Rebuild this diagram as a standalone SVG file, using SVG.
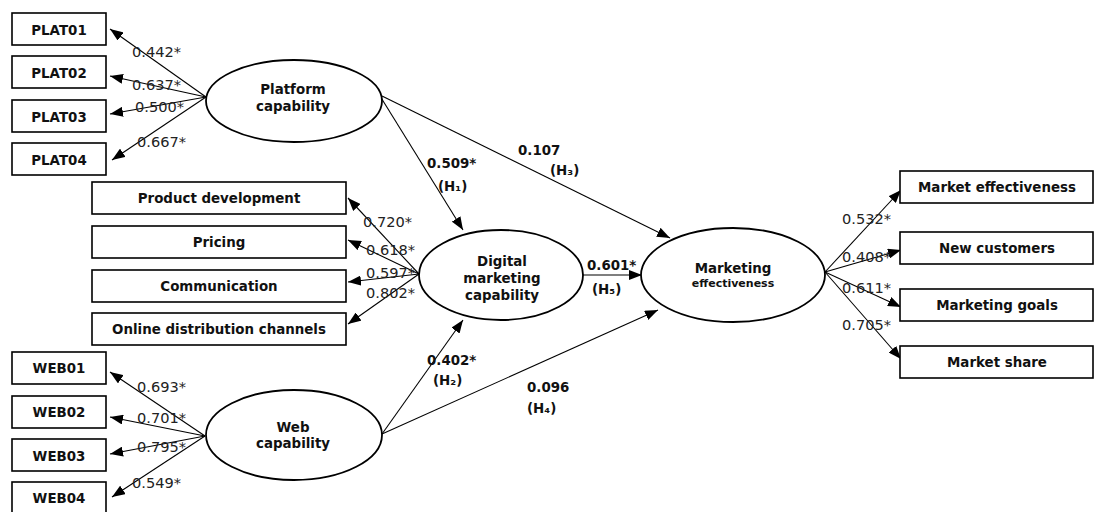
<svg xmlns="http://www.w3.org/2000/svg" width="1095" height="512" viewBox="0 0 1095 512">
<defs>
<marker id="ah" markerUnits="userSpaceOnUse" markerWidth="13" markerHeight="10" refX="13" refY="5" orient="auto">
<path d="M0,0 L13,5 L0,10 z" fill="#000"/>
</marker>
<style>
.box{fill:#fff;stroke:#000;stroke-width:1.6}
.ell{fill:#fff;stroke:#000;stroke-width:1.8}
.bl{font-family:"DejaVu Sans",Verdana,sans-serif;font-weight:bold;font-size:13.4px;fill:#111;text-anchor:middle}
.el{font-family:"DejaVu Sans",Verdana,sans-serif;font-weight:bold;font-size:13.4px;fill:#111;text-anchor:middle}
.num{font-family:"DejaVu Sans",Verdana,sans-serif;font-size:14.6px;fill:#222}
.pn{font-family:"DejaVu Sans",Verdana,sans-serif;font-weight:bold;font-size:13.4px;fill:#111}
.ln{stroke:#000;stroke-width:1.1;fill:none;marker-end:url(#ah)}
</style>
</defs>
<rect width="1095" height="512" fill="#fff"/>

<g id="connectors">
<line class="ln" x1="206" y1="97" x2="110" y2="29"/>
<line class="ln" x1="206" y1="97" x2="110" y2="76"/>
<line class="ln" x1="206" y1="97" x2="110" y2="114"/>
<line class="ln" x1="206" y1="97" x2="112" y2="160"/>
<line class="ln" x1="419" y1="274" x2="348" y2="198"/>
<line class="ln" x1="419" y1="274" x2="348" y2="240"/>
<line class="ln" x1="419" y1="274" x2="348" y2="282"/>
<line class="ln" x1="419" y1="274" x2="348" y2="324"/>
<line class="ln" x1="825" y1="272" x2="901" y2="190"/>
<line class="ln" x1="825" y1="272" x2="901" y2="250"/>
<line class="ln" x1="825" y1="272" x2="901" y2="307"/>
<line class="ln" x1="825" y1="272" x2="901" y2="359"/>
<line class="ln" x1="205" y1="436" x2="110" y2="372"/>
<line class="ln" x1="205" y1="436" x2="110" y2="417"/>
<line class="ln" x1="205" y1="436" x2="110" y2="454"/>
<line class="ln" x1="205" y1="436" x2="112" y2="497"/>
<line class="ln" x1="380" y1="96" x2="463" y2="230"/>
<line class="ln" x1="382" y1="96" x2="670" y2="238"/>
<line class="ln" x1="583" y1="275" x2="642" y2="275"/>
<line class="ln" x1="382" y1="434" x2="463" y2="320"/>
<line class="ln" x1="382" y1="434" x2="658" y2="310"/>
</g>

<g id="labels">
<text class="num" x="132" y="57">0.442*</text>
<text class="num" x="132" y="90">0.637*</text>
<text class="num" x="135" y="112">0.500*</text>
<text class="num" x="137" y="147">0.667*</text>
<text class="num" x="363" y="227">0.720*</text>
<text class="num" x="366" y="255">0.618*</text>
<text class="num" x="366" y="278">0.597*</text>
<text class="num" x="366" y="298">0.802*</text>
<text class="num" x="842" y="224">0.532*</text>
<text class="num" x="842" y="262">0.408*</text>
<text class="num" x="842" y="293">0.611*</text>
<text class="num" x="842" y="330">0.705*</text>
<text class="num" x="137" y="392">0.693*</text>
<text class="num" x="137" y="423">0.701*</text>
<text class="num" x="137" y="452">0.795*</text>
<text class="num" x="132" y="488">0.549*</text>
<text class="pn" x="427" y="168">0.509*</text>
<text class="pn" x="438" y="191">(H₁)</text>
<text class="pn" x="518" y="155">0.107</text>
<text class="pn" x="550" y="175">(H₃)</text>
<text class="pn" x="587" y="270">0.601*</text>
<text class="pn" x="592" y="294">(H₅)</text>
<text class="pn" x="427" y="365">0.402*</text>
<text class="pn" x="433" y="385">(H₂)</text>
<text class="pn" x="527" y="392">0.096</text>
<text class="pn" x="527" y="413">(H₄)</text>
</g>

<g id="plat01"><rect class="box" x="12" y="13" width="94" height="32"/><text class="bl" x="59" y="35">PLAT01</text></g>
<g id="plat02"><rect class="box" x="12" y="56" width="94" height="32"/><text class="bl" x="59" y="78">PLAT02</text></g>
<g id="plat03"><rect class="box" x="12" y="100" width="94" height="32"/><text class="bl" x="59" y="122">PLAT03</text></g>
<g id="plat04"><rect class="box" x="12" y="143" width="94" height="32"/><text class="bl" x="59" y="165">PLAT04</text></g>

<g id="platform"><ellipse class="ell" cx="294" cy="101" rx="88" ry="41"/><text class="el" x="293" y="94">Platform</text><text class="el" x="293" y="111">capability</text></g>

<g id="product"><rect class="box" x="92" y="182" width="254" height="32"/><text class="bl" x="219" y="203">Product development</text></g>
<g id="pricing"><rect class="box" x="92" y="226" width="254" height="32"/><text class="bl" x="219" y="247">Pricing</text></g>
<g id="communication"><rect class="box" x="92" y="270" width="254" height="32"/><text class="bl" x="219" y="291">Communication</text></g>
<g id="online"><rect class="box" x="92" y="313" width="254" height="32"/><text class="bl" x="219" y="334">Online distribution channels</text></g>

<g id="digital"><ellipse class="ell" cx="501" cy="275" rx="82" ry="45"/><text class="el" x="502" y="266">Digital</text><text class="el" x="502" y="283">marketing</text><text class="el" x="502" y="300">capability</text></g>

<g id="marketing"><ellipse class="ell" cx="733" cy="275" rx="92" ry="47"/><text class="el" x="733" y="273">Marketing</text><text class="el" x="733" y="287" style="font-size:11px">effectiveness</text></g>

<g id="market_eff"><rect class="box" x="900" y="171" width="193" height="32"/><text class="bl" x="997" y="192">Market effectiveness</text></g>
<g id="new_cust"><rect class="box" x="900" y="232" width="193" height="32"/><text class="bl" x="997" y="253">New customers</text></g>
<g id="mkt_goals"><rect class="box" x="900" y="289" width="193" height="32"/><text class="bl" x="997" y="310">Marketing goals</text></g>
<g id="mkt_share"><rect class="box" x="900" y="346" width="193" height="32"/><text class="bl" x="997" y="367">Market share</text></g>

<g id="web01"><rect class="box" x="12" y="352" width="94" height="32"/><text class="bl" x="59" y="373">WEB01</text></g>
<g id="web02"><rect class="box" x="12" y="396" width="94" height="32"/><text class="bl" x="59" y="417">WEB02</text></g>
<g id="web03"><rect class="box" x="12" y="439" width="94" height="32"/><text class="bl" x="59" y="461">WEB03</text></g>
<g id="web04"><rect class="box" x="12" y="482" width="94" height="32"/><text class="bl" x="59" y="503">WEB04</text></g>

<g id="web"><ellipse class="ell" cx="294" cy="435" rx="88" ry="45"/><text class="el" x="293" y="432">Web</text><text class="el" x="293" y="448">capability</text></g>
</svg>
